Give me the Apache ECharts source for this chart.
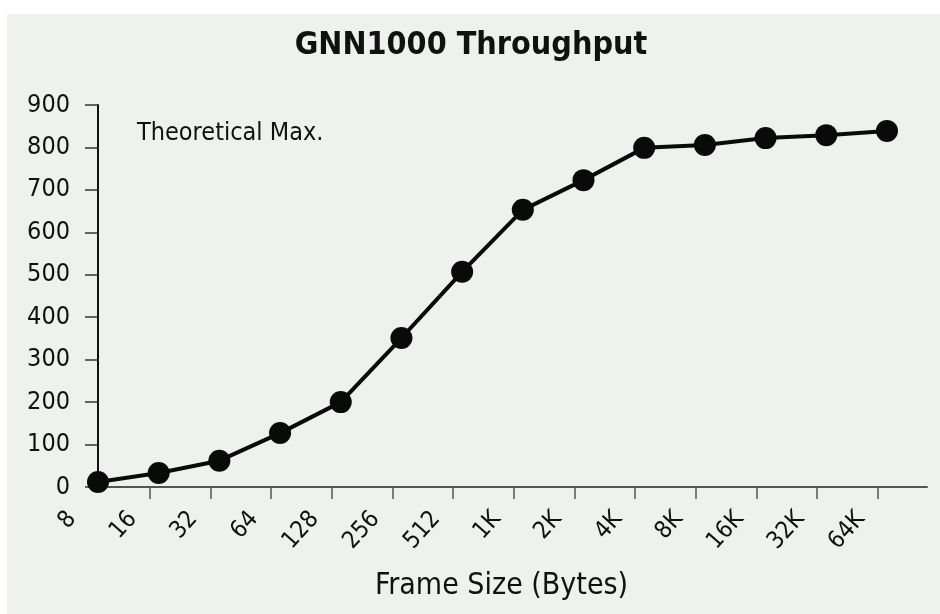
<!DOCTYPE html>
<html>
<head>
<meta charset="UTF-8">
<title>GNN1000 Throughput</title>
<script src="https://cdn.jsdelivr.net/npm/echarts@6/dist/echarts.min.js"></script>
<style>
html,body{margin:0;padding:0;background:#fff;}
#main{width:940px;height:614px;}
</style>
</head>
<body>
<div id="main"></div>
<script type="text/javascript">
// frame sizes (bytes) along the x axis
var frameSizes = ['8','16','32','64','128','256','512','1K','2K','4K','8K','16K','32K','64K'];
// throughput
var throughput = [12, 33, 62, 127, 200, 351, 507, 653, 723, 799, 806, 822, 829, 839];
var yTicks = [0, 100, 200, 300, 400, 500, 600, 700, 800, 900];

var FONT = "'Liberation Sans Narrow','DejaVu Sans Condensed','Roboto Condensed',sans-serif";
var X_MAX = 13.66;
var LABEL_PX = 26;    // labels sit left of their point in the original
var TICK_SHIFT = 0.15;

var pts = [];
for (var i = 0; i < throughput.length; i++) {
	pts.push([i, throughput[i]]);
}
var tickPos = [], labelPos = [];
for (var i = 0; i < frameSizes.length; i++) {
	if (i > 0) tickPos.push(i - TICK_SHIFT);
	labelPos.push(i);
}

var myChart = echarts.init(document.getElementById('main'));
var option = {
	animation: false,
	backgroundColor: '#fff',
	graphic: [
		{type: 'rect', left: 7, top: 14, z: -10, silent: true,
			shape: {width: 933, height: 600}, style: {fill: '#edf2ed'}},
		{type: 'text', left: 137, top: 121,
			style: {text: 'Theoretical Max.', font: '25px ' + FONT, fill: '#111'}}
	],
	title: {
		text: 'GNN1000 Throughput',
		left: 466, top: 25, textAlign: 'center',
		textStyle: {fontFamily: FONT, fontSize: 32, fontWeight: 'bold', color: '#111'}
	},
	grid: [
		{left: 98, right: 13, top: 105, bottom: 127},
		// same scale, shifted left: carries only the tick labels
		{left: 98 - LABEL_PX, right: 13 + LABEL_PX, top: 105, bottom: 127}
	],
	xAxis: [{
		type: 'value', gridIndex: 0, min: 0, max: X_MAX, interval: 1,
		axisLine: {show: true, onZero: false, lineStyle: {color: '#555', width: 2}},
		axisTick: {show: true, customValues: tickPos, length: 12, lineStyle: {color: '#555', width: 1.5}},
		axisLabel: {show: false},
		splitLine: {show: false},
		name: 'Frame Size (Bytes)', nameLocation: 'middle', nameGap: 84,
		nameTextStyle: {fontFamily: FONT, fontSize: 30, color: '#111', padding: [0, 22, 0, 0]}
	}, {
		type: 'value', gridIndex: 1, min: 0, max: X_MAX, interval: 1,
		axisLine: {show: false}, axisTick: {show: false}, splitLine: {show: false},
		axisLabel: {
			customValues: labelPos, rotate: 48, margin: 28,
			fontFamily: FONT, fontSize: 24, color: '#111',
			formatter: function (v) { return frameSizes[v] || ''; }
		}
	}],
	yAxis: [{
		type: 'value', gridIndex: 0, min: yTicks[0], max: yTicks[yTicks.length - 1], interval: 100,
		axisLine: {show: true, lineStyle: {color: '#111', width: 2}},
		axisTick: {show: true, length: 13, lineStyle: {color: '#333', width: 1.5}},
		axisLabel: {margin: 28, fontFamily: FONT, fontSize: 25, color: '#111'},
		splitLine: {show: false}
	}, {
		type: 'value', gridIndex: 1, min: 0, max: 900, show: false
	}],
	series: [{
		type: 'line',
		xAxisIndex: 0, yAxisIndex: 0,
		data: pts,
		symbol: 'circle', symbolSize: 22,
		itemStyle: {color: '#0a0a0a'},
		lineStyle: {color: '#0a0a0a', width: 4}
	}]
};
myChart.setOption(option);
</script>
</body>
</html>
